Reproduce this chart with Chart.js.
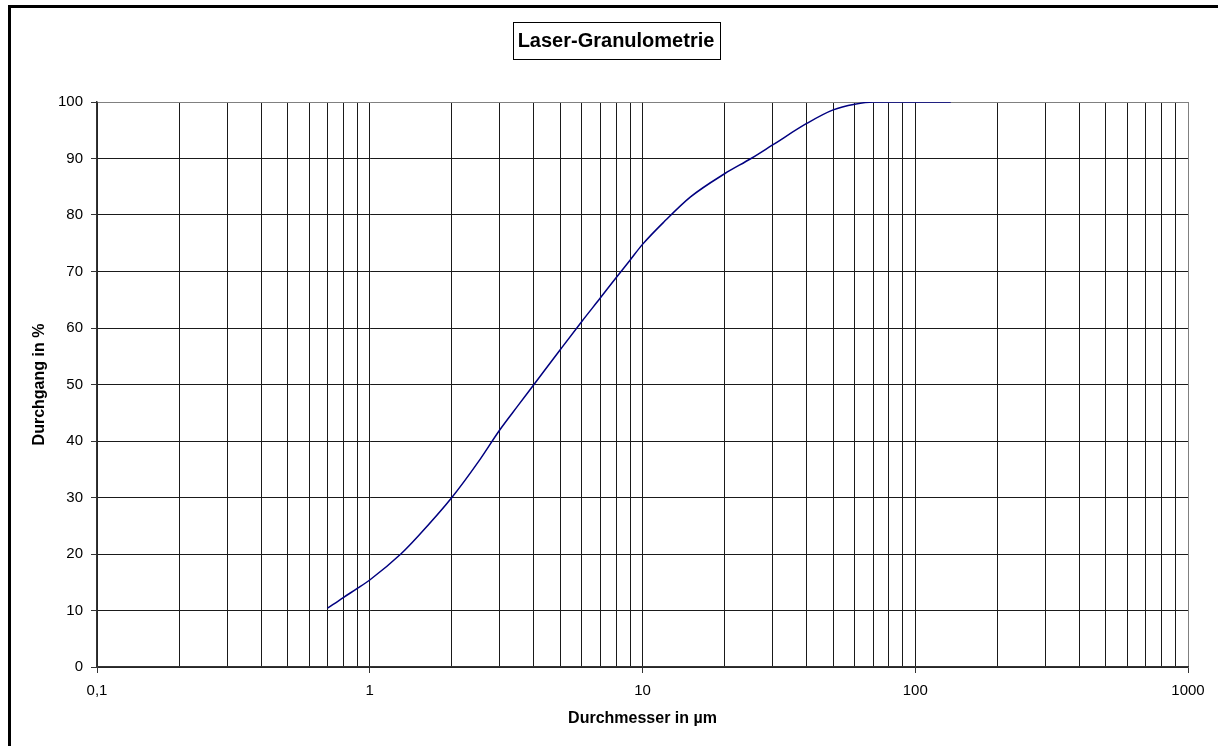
<!DOCTYPE html>
<html>
<head>
<meta charset="utf-8">
<title>Laser-Granulometrie</title>
<script src="https://cdn.jsdelivr.net/npm/chart.js@4.4.0/dist/chart.umd.min.js"></script>
<style>
  html, body { margin: 0; padding: 0; background: #fff; }
  #wrap { width: 1218px; height: 746px; }
</style>
</head>
<body>
<div id="wrap"><canvas id="chart" width="1218" height="746"></canvas></div>
<script>
// Durchmesser (µm) and Durchgang (%)
const diameters = [0.7, 0.8, 0.9, 1, 1.3, 1.5, 2, 2.5, 3, 3.5, 4, 5, 6, 7, 8, 9, 10, 12, 15, 20, 25, 30, 40, 50, 60, 70, 100, 135];
const passing   = [10.4, 12.3, 13.9, 15.4, 20, 23.1, 30, 36.3, 42.0, 46.3, 50, 56.2, 61.2, 65.3, 68.9, 72.0, 74.8, 78.8, 83.2, 87.3, 90, 92.4, 96.2, 98.6, 99.6, 100, 100, 100];

// grid positions on the log axis and the labelled ones
const xGrid = [0.1, 0.2, 0.3, 0.4, 0.5, 0.6, 0.7, 0.8, 0.9,
               1, 2, 3, 4, 5, 6, 7, 8, 9,
               10, 20, 30, 40, 50, 60, 70, 80, 90,
               100, 200, 300, 400, 500, 600, 700, 800, 900, 1000];
const xMajor = [0.1, 1, 10, 100, 1000];
const xLabels = ['0,1', '1', '10', '100', '1000'];

const FONT = '"Liberation Sans", Arial, sans-serif';
const TITLE_SIZE = 20;
const TITLE_PAD_TOP = 29;

const isMajor = v => xMajor.some(m => Math.abs(m - v) < 1e-9);

// outer frame + box round the title
const framePlugin = {
  id: 'frame',
  beforeDraw(chart) {
    const ctx = chart.ctx;
    ctx.save();
    ctx.fillStyle = '#fff';
    ctx.fillRect(0, 0, chart.width, chart.height);
    ctx.fillStyle = '#000';
    ctx.fillRect(8, 5, 3, chart.height - 5);
    ctx.fillRect(8, 5, chart.width - 8, 3);
    ctx.restore();
  },
  afterDraw(chart) {
    const tb = chart.titleBlock;
    if (!tb) return;
    const ctx = chart.ctx;
    ctx.save();
    ctx.font = 'bold ' + TITLE_SIZE + 'px ' + FONT;
    const w = ctx.measureText(chart.options.plugins.title.text).width;
    const cx = (tb.left + tb.right) / 2;
    const cy = tb.top + TITLE_PAD_TOP + TITLE_SIZE * 1.2 / 2;
    ctx.strokeStyle = '#000';
    ctx.lineWidth = 1;
    ctx.strokeRect(Math.round(cx - w / 2 - 5) + 0.5, Math.round(cy - 19) + 0.5, Math.round(w + 10), 37);
    ctx.restore();
  }
};

new Chart(document.getElementById('chart'), {
  type: 'line',
  data: {
    datasets: [{
      label: 'Durchgang',
      data: diameters.map((d, i) => ({ x: d, y: passing[i] })),
      borderColor: '#000080',
      borderWidth: 1.5,
      pointRadius: 0,
      fill: false,
      cubicInterpolationMode: 'monotone'
    }]
  },
  options: {
    responsive: false,
    animation: false,
    layout: { padding: { left: 44, right: 30, top: 0, bottom: 0 } },
    plugins: {
      legend: { display: false },
      tooltip: { enabled: false },
      title: {
        display: true,
        text: 'Laser-Granulometrie',
        color: '#000',
        font: { family: FONT, size: TITLE_SIZE, weight: 'bold', lineHeight: 1.2 },
        padding: { top: TITLE_PAD_TOP, bottom: 49 }
      }
    },
    scales: {
      x: {
        type: 'logarithmic',
        min: 0.1,
        max: 1000,
        afterBuildTicks: s => { s.ticks = xGrid.map(v => ({ value: v })); },
        afterFit: s => { s.height = 79; },
        ticks: {
          autoSkip: false,
          maxRotation: 0,
          color: '#000',
          padding: 9,
          font: { family: FONT, size: 15 },
          callback: v => {
            const i = xMajor.findIndex(m => Math.abs(m - v) < 1e-9);
            return i >= 0 ? xLabels[i] : '';
          }
        },
        grid: {
          color: c => (c.tick && c.tick.value === 1000) ? '#808080' : '#1a1a1a',
          lineWidth: 1,
          tickLength: 6,
          tickColor: c => (c.tick && isMajor(c.tick.value)) ? '#333' : 'rgba(0,0,0,0)'
        },
        border: { color: '#333', width: 1.5 },
        title: {
          display: true,
          text: 'Durchmesser in µm',
          color: '#000',
          font: { family: FONT, size: 16, weight: 'bold', lineHeight: 1.2 },
          padding: { top: 0, bottom: 18 }
        }
      },
      y: {
        min: 0,
        max: 100,
        afterFit: s => { s.width = 53; },
        ticks: {
          stepSize: 10,
          color: '#000',
          padding: 8,
          font: { family: FONT, size: 15 }
        },
        grid: {
          color: c => (c.tick && c.tick.value === 100) ? '#808080' : '#1a1a1a',
          lineWidth: 1,
          tickLength: 6,
          tickColor: '#333'
        },
        border: { color: '#333', width: 1.5 },
        title: {
          display: true,
          text: 'Durchgang in %',
          color: '#000',
          font: { family: FONT, size: 16, weight: 'bold', lineHeight: 1.2 },
          padding: { top: -13.6, bottom: 0 }
        }
      }
    }
  },
  plugins: [framePlugin]
});
</script>
</body>
</html>
